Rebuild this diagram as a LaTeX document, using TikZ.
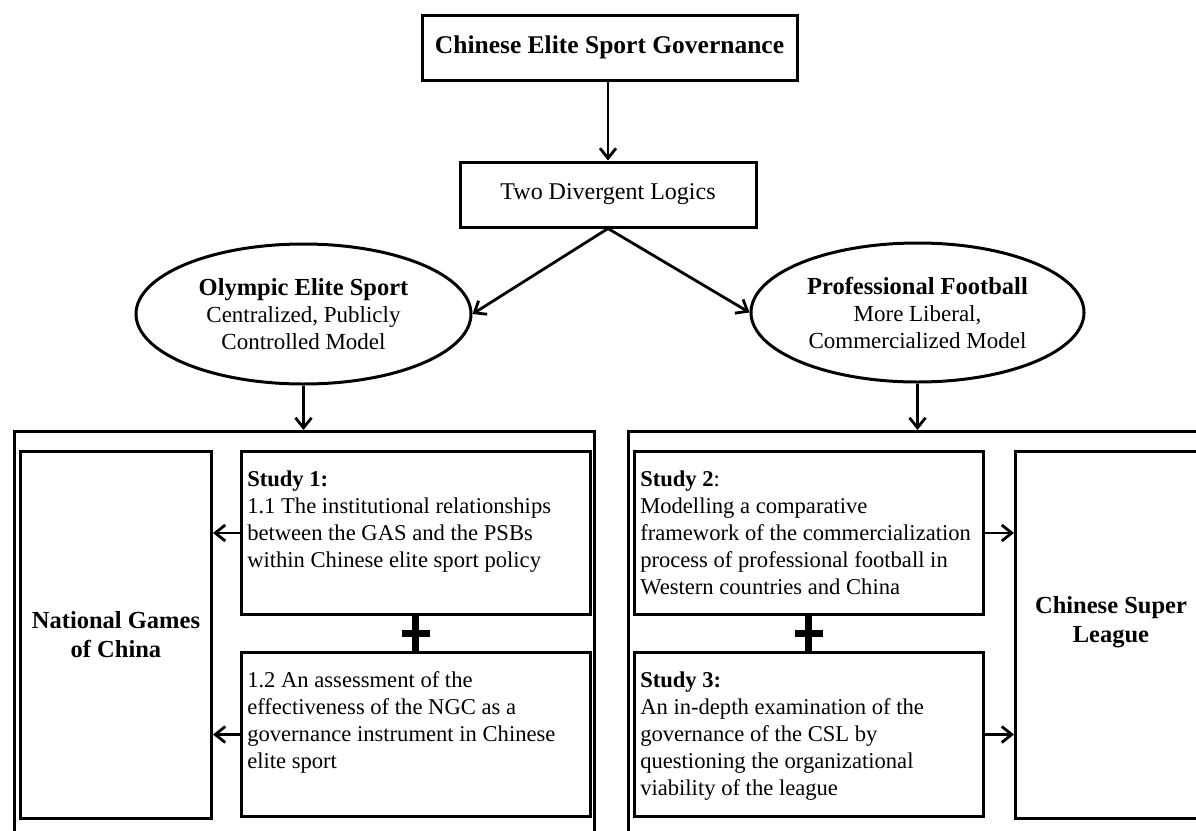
\documentclass[tikz,border=0pt]{standalone}
\usepackage{fontspec}
\setmainfont{Liberation Serif}
\usetikzlibrary{arrows.meta,shapes.geometric}
\newcommand\sbody[1]{\begin{minipage}[c][163pt][t]{337pt}\raggedright\vspace*{16pt}\strut #1\end{minipage}}
\begin{document}
\begin{tikzpicture}[x=1pt,y=-1pt,
  every node/.style={font=\fontsize{22.6}{27}\selectfont},
  box/.style={draw, inner sep=0pt, line width=3pt},
  oval/.style={draw, ellipse, inner sep=0pt, line width=3pt, align=center,
    font=\fontsize{23}{27}\selectfont},
  bigbold/.style={font=\bfseries\fontsize{24.5}{29}\selectfont, align=center},
  arr/.style={line width=2.8pt, -{Straight Barb[length=10pt,width=16pt,line width=2.8pt]}},
  plusbar/.style={line width=7pt}
]
\useasboundingbox (0,0) rectangle (1196,830);
\clip (0,0) rectangle (1196,830);

% top levels
\node[box, minimum width=375pt, minimum height=65pt,
  font=\bfseries\fontsize{25.5}{30}\selectfont] (top) at (609.5,47.5) {Chinese Elite Sport Governance};
\node[box, minimum width=296pt, minimum height=65pt,
  font=\fontsize{24}{28}\selectfont] (two) at (608,194.5) {Two Divergent Logics};

\node[oval, minimum width=335pt, minimum height=140pt] (oly) at (303.5,314)
  {{\bfseries\fontsize{24.5}{27}\selectfont Olympic Elite Sport}\\Centralized, Publicly\\Controlled Model};
\node[oval, minimum width=333pt, minimum height=139pt] (pro) at (917.5,312.5)
  {{\bfseries\fontsize{24.5}{27}\selectfont Professional Football}\\More Liberal,\\Commercialized Model};

% outer frames
\node[box, anchor=north west, minimum width=580pt, minimum height=407pt] (lout) at (13,430) {};
\node[box, anchor=north west, minimum width=584pt, minimum height=407pt] (rout) at (627,430) {};

% side boxes
\node[box, bigbold, anchor=north west, minimum width=191pt, minimum height=367pt] (ngc) at (19,450)
  {National Games\\of China};
\node[box, anchor=north west, minimum width=191pt, minimum height=367pt] (csl) at (1014,450) {};
\node[bigbold] (csltext) at ([yshift=13pt]csl.center) {Chinese Super\\League};

% study boxes
\node[box, anchor=north west, minimum width=348.5pt, minimum height=163pt] (s1) at (240,450)
  {\sbody{\textbf{Study 1:}\\1.1 The institutional relationships\\between the GAS and the PSBs\\within Chinese elite sport policy}};
\node[box, anchor=north west, minimum width=348.5pt, minimum height=164pt] (s12) at (240,651)
  {\sbody{1.2 An assessment of the\\effectiveness of the NGC as a\\governance instrument in Chinese\\elite sport}};
\node[box, anchor=north west, minimum width=348.5pt, minimum height=163pt] (s2) at (633,450)
  {\sbody{\textbf{Study 2}:\\Modelling a comparative\\framework of the commercialization\\process of professional football in\\Western countries and China}};
\node[box, anchor=north west, minimum width=348.5pt, minimum height=164pt] (s3) at (633,651)
  {\sbody{\textbf{Study 3:}\\An in-depth examination of the\\governance of the CSL by\\questioning the organizational\\viability of the league}};

% connectors
\draw[arr] (two.north |- top.south) -- (two.north);
\draw[arr] (two.south) -- (oly.east);
\draw[arr] (two.south) -- (pro.west);
\draw[arr] (oly.south) -- (oly.south |- lout.north);
\draw[arr] (pro.south) -- (pro.south |- rout.north);

\draw[arr] (s1.west) -- (s1.west -| ngc.east);
\draw[arr] (s12.west) -- (s12.west -| ngc.east);
\draw[arr] (s2.east) -- (s2.east -| csl.west);
\draw[arr] (s3.east) -- (s3.east -| csl.west);

% plus signs
\draw[plusbar] (s1.south) -- (s12.north -| s1.south);
\path (s1.south) -- (s12.north -| s1.south) coordinate[midway] (pm1);
\draw[plusbar] ([xshift=-14pt]pm1) -- ([xshift=14pt]pm1);
\draw[plusbar] (s2.south) -- (s3.north -| s2.south);
\path (s2.south) -- (s3.north -| s2.south) coordinate[midway] (pm2);
\draw[plusbar] ([xshift=-14pt]pm2) -- ([xshift=14pt]pm2);
\end{tikzpicture}
\end{document}
